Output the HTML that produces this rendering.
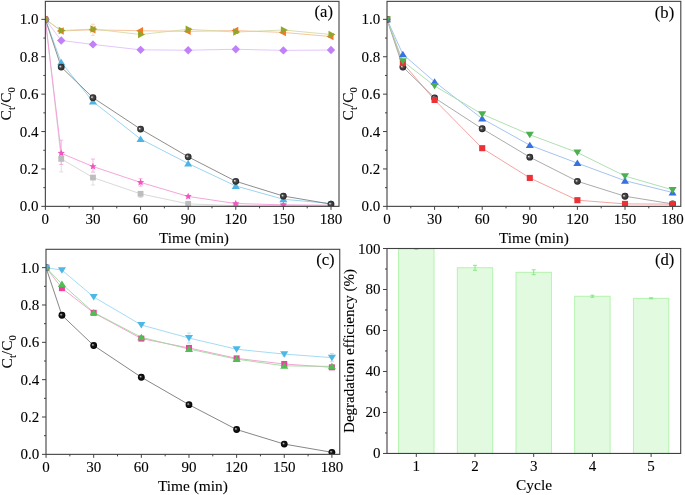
<!DOCTYPE html>
<html><head><meta charset="utf-8"><style>
html,body{margin:0;padding:0;background:#fff;width:685px;height:495px;overflow:hidden}
svg{display:block;will-change:transform} text{stroke:#000;stroke-width:0.1px}
</style></head><body>
<svg width="685" height="495" viewBox="0 0 685 495" font-family='"Liberation Serif", serif' fill="#000">
<defs>
<radialGradient id="sph" cx="0.5" cy="0.5" r="0.5" fx="0.32" fy="0.4">
<stop offset="0" stop-color="#f4f4f4"/><stop offset="0.15" stop-color="#b8b8b8"/><stop offset="0.4" stop-color="#4a4a4a"/><stop offset="0.8" stop-color="#333"/><stop offset="1" stop-color="#1c1c1c"/>
</radialGradient>
<radialGradient id="sphc" cx="0.5" cy="0.5" r="0.5" fx="0.35" fy="0.38">
<stop offset="0" stop-color="#d8d8d8"/><stop offset="0.15" stop-color="#909090"/><stop offset="0.4" stop-color="#1a1a1a"/><stop offset="1" stop-color="#000"/>
</radialGradient>
</defs>
<rect width="685" height="495" fill="#fff"/>
<clipPath id="clipa"><rect x="45.35" y="1.35" width="293.65" height="205.0"/></clipPath>
<g clip-path="url(#clipa)">
<polyline points="45.35,19.35 61.22,158.85 92.96,177.55 140.57,193.82 188.17,203.92 235.78,205.60 283.39,205.79 331.00,205.79" fill="none" stroke="#d5d5d5" stroke-width="0.9"/>
<polyline points="45.35,19.35 61.22,153.24 92.96,166.52 140.57,182.41 188.17,196.44 235.78,203.54 283.39,204.85 331.00,205.23" fill="none" stroke="#f59ad6" stroke-width="0.9"/>
<polyline points="45.35,19.35 61.22,62.36 92.96,101.63 140.57,139.03 188.17,163.53 235.78,185.97 283.39,199.24 331.00,203.54" fill="none" stroke="#8fd0ee" stroke-width="0.9"/>
<polyline points="45.35,19.35 61.22,67.03 92.96,97.70 140.57,129.12 188.17,156.79 235.78,181.29 283.39,196.06 331.00,204.11" fill="none" stroke="#7a7a7a" stroke-width="0.85"/>
<polyline points="45.35,19.35 61.22,40.48 92.96,44.41 140.57,49.83 188.17,50.21 235.78,49.27 283.39,50.39 331.00,50.02" fill="none" stroke="#e0c0fa" stroke-width="0.9"/>
<polyline points="45.35,19.35 61.22,30.94 92.96,29.82 140.57,30.76 188.17,31.32 235.78,30.57 283.39,32.44 331.00,36.55" fill="none" stroke="#f5b685" stroke-width="0.8"/>
<polyline points="45.35,19.35 61.22,30.57 92.96,29.07 140.57,34.50 188.17,29.26 235.78,32.07 283.39,30.01 331.00,34.50" fill="none" stroke="#cfd79a" stroke-width="0.8"/>
<line x1="61.22" y1="158.85" x2="61.22" y2="171.94" stroke="#d8d8d8" stroke-width="0.8"/>
<line x1="59.22" y1="158.85" x2="63.22" y2="158.85" stroke="#d8d8d8" stroke-width="0.8"/>
<line x1="59.22" y1="171.94" x2="63.22" y2="171.94" stroke="#d8d8d8" stroke-width="0.8"/>
<line x1="92.96" y1="177.55" x2="92.96" y2="185.03" stroke="#d8d8d8" stroke-width="0.8"/>
<line x1="90.96" y1="177.55" x2="94.96" y2="177.55" stroke="#d8d8d8" stroke-width="0.8"/>
<line x1="90.96" y1="185.03" x2="94.96" y2="185.03" stroke="#d8d8d8" stroke-width="0.8"/>
<line x1="140.57" y1="193.82" x2="140.57" y2="197.56" stroke="#d8d8d8" stroke-width="0.8"/>
<line x1="138.57" y1="193.82" x2="142.57" y2="193.82" stroke="#d8d8d8" stroke-width="0.8"/>
<line x1="138.57" y1="197.56" x2="142.57" y2="197.56" stroke="#d8d8d8" stroke-width="0.8"/>
<line x1="61.22" y1="140.15" x2="61.22" y2="164.46" stroke="#f5a3da" stroke-width="0.8"/>
<line x1="59.22" y1="140.15" x2="63.22" y2="140.15" stroke="#f5a3da" stroke-width="0.8"/>
<line x1="59.22" y1="164.46" x2="63.22" y2="164.46" stroke="#f5a3da" stroke-width="0.8"/>
<line x1="92.96" y1="159.04" x2="92.96" y2="172.13" stroke="#f5a3da" stroke-width="0.8"/>
<line x1="90.96" y1="159.04" x2="94.96" y2="159.04" stroke="#f5a3da" stroke-width="0.8"/>
<line x1="90.96" y1="172.13" x2="94.96" y2="172.13" stroke="#f5a3da" stroke-width="0.8"/>
<line x1="140.57" y1="178.67" x2="140.57" y2="186.15" stroke="#f5a3da" stroke-width="0.8"/>
<line x1="138.57" y1="178.67" x2="142.57" y2="178.67" stroke="#f5a3da" stroke-width="0.8"/>
<line x1="138.57" y1="186.15" x2="142.57" y2="186.15" stroke="#f5a3da" stroke-width="0.8"/>
<line x1="92.96" y1="24.21" x2="92.96" y2="35.43" stroke="#f8cfb0" stroke-width="0.8"/>
<line x1="90.96" y1="24.21" x2="94.96" y2="24.21" stroke="#f8cfb0" stroke-width="0.8"/>
<line x1="90.96" y1="35.43" x2="94.96" y2="35.43" stroke="#f8cfb0" stroke-width="0.8"/>
<rect x="42.45" y="16.45" width="5.8" height="5.8" fill="#bdbdbd"/>
<rect x="58.32" y="155.95" width="5.8" height="5.8" fill="#bdbdbd"/>
<rect x="90.06" y="174.65" width="5.8" height="5.8" fill="#bdbdbd"/>
<rect x="137.67" y="190.92" width="5.8" height="5.8" fill="#bdbdbd"/>
<rect x="185.27" y="201.02" width="5.8" height="5.8" fill="#bdbdbd"/>
<rect x="232.88" y="202.70" width="5.8" height="5.8" fill="#bdbdbd"/>
<rect x="280.49" y="202.89" width="5.8" height="5.8" fill="#bdbdbd"/>
<rect x="328.10" y="202.89" width="5.8" height="5.8" fill="#bdbdbd"/>
<polygon points="45.35,15.55 46.36,17.97 48.96,18.18 46.98,19.88 47.58,22.42 45.35,21.06 43.12,22.42 43.72,19.88 41.74,18.18 44.34,17.97" fill="#f056be"/>
<polygon points="61.22,149.44 62.22,151.86 64.83,152.07 62.85,153.77 63.45,156.32 61.22,154.95 58.99,156.32 59.59,153.77 57.61,152.07 60.21,151.86" fill="#f056be"/>
<polygon points="92.96,162.72 93.96,165.14 96.57,165.34 94.58,167.05 95.19,169.59 92.96,168.23 90.72,169.59 91.33,167.05 89.34,165.34 91.95,165.14" fill="#f056be"/>
<polygon points="140.57,178.61 141.57,181.03 144.18,181.24 142.19,182.94 142.80,185.49 140.57,184.12 138.33,185.49 138.94,182.94 136.95,181.24 139.56,181.03" fill="#f056be"/>
<polygon points="188.17,192.64 189.18,195.06 191.79,195.26 189.80,196.97 190.41,199.51 188.17,198.15 185.94,199.51 186.55,196.97 184.56,195.26 187.17,195.06" fill="#f056be"/>
<polygon points="235.78,199.74 236.79,202.16 239.40,202.37 237.41,204.07 238.02,206.62 235.78,205.25 233.55,206.62 234.16,204.07 232.17,202.37 234.78,202.16" fill="#f056be"/>
<polygon points="283.39,201.05 284.40,203.47 287.01,203.68 285.02,205.38 285.63,207.93 283.39,206.56 281.16,207.93 281.77,205.38 279.78,203.68 282.39,203.47" fill="#f056be"/>
<polygon points="331.00,201.43 332.01,203.84 334.61,204.05 332.63,205.76 333.23,208.30 331.00,206.94 328.77,208.30 329.37,205.76 327.39,204.05 329.99,203.84" fill="#f056be"/>
<path d="M45.35,15.79 L49.40,22.27 L41.30,22.27Z" fill="#4db5e3"/>
<path d="M61.22,58.80 L65.27,65.28 L57.17,65.28Z" fill="#4db5e3"/>
<path d="M92.96,98.07 L97.01,104.55 L88.91,104.55Z" fill="#4db5e3"/>
<path d="M140.57,135.47 L144.62,141.95 L136.52,141.95Z" fill="#4db5e3"/>
<path d="M188.17,159.96 L192.22,166.44 L184.12,166.44Z" fill="#4db5e3"/>
<path d="M235.78,182.40 L239.83,188.88 L231.73,188.88Z" fill="#4db5e3"/>
<path d="M283.39,195.68 L287.44,202.16 L279.34,202.16Z" fill="#4db5e3"/>
<path d="M331.00,199.98 L335.05,206.46 L326.95,206.46Z" fill="#4db5e3"/>
<circle cx="45.35" cy="19.35" r="3.4" fill="url(#sph)"/>
<circle cx="61.22" cy="67.03" r="3.4" fill="url(#sph)"/>
<circle cx="92.96" cy="97.70" r="3.4" fill="url(#sph)"/>
<circle cx="140.57" cy="129.12" r="3.4" fill="url(#sph)"/>
<circle cx="188.17" cy="156.79" r="3.4" fill="url(#sph)"/>
<circle cx="235.78" cy="181.29" r="3.4" fill="url(#sph)"/>
<circle cx="283.39" cy="196.06" r="3.4" fill="url(#sph)"/>
<circle cx="331.00" cy="204.11" r="3.4" fill="url(#sph)"/>
<path d="M45.35,15.15 L49.55,19.35 L45.35,23.55 L41.15,19.35Z" fill="#c080f8"/>
<path d="M61.22,36.28 L65.42,40.48 L61.22,44.68 L57.02,40.48Z" fill="#c080f8"/>
<path d="M92.96,40.21 L97.16,44.41 L92.96,48.61 L88.76,44.41Z" fill="#c080f8"/>
<path d="M140.57,45.63 L144.77,49.83 L140.57,54.03 L136.37,49.83Z" fill="#c080f8"/>
<path d="M188.17,46.01 L192.37,50.21 L188.17,54.41 L183.97,50.21Z" fill="#c080f8"/>
<path d="M235.78,45.07 L239.98,49.27 L235.78,53.47 L231.58,49.27Z" fill="#c080f8"/>
<path d="M283.39,46.19 L287.59,50.39 L283.39,54.59 L279.19,50.39Z" fill="#c080f8"/>
<path d="M331.00,45.82 L335.20,50.02 L331.00,54.22 L326.80,50.02Z" fill="#c080f8"/>
<path d="M40.87,19.35 L47.87,15.65 L47.87,23.05Z" fill="#f07a28"/>
<path d="M56.74,30.94 L63.74,27.24 L63.74,34.64Z" fill="#f07a28"/>
<path d="M88.48,29.82 L95.48,26.12 L95.48,33.52Z" fill="#f07a28"/>
<path d="M136.09,30.76 L143.09,27.06 L143.09,34.46Z" fill="#f07a28"/>
<path d="M183.69,31.32 L190.69,27.62 L190.69,35.02Z" fill="#f07a28"/>
<path d="M231.30,30.57 L238.30,26.87 L238.30,34.27Z" fill="#f07a28"/>
<path d="M278.91,32.44 L285.91,28.74 L285.91,36.14Z" fill="#f07a28"/>
<path d="M326.52,36.55 L333.52,32.85 L333.52,40.25Z" fill="#f07a28"/>
<path d="M49.83,19.35 L42.83,15.65 L42.83,23.05Z" fill="#93a52a"/>
<path d="M65.70,30.57 L58.70,26.87 L58.70,34.27Z" fill="#93a52a"/>
<path d="M97.44,29.07 L90.44,25.37 L90.44,32.77Z" fill="#93a52a"/>
<path d="M145.05,34.50 L138.05,30.80 L138.05,38.20Z" fill="#93a52a"/>
<path d="M192.65,29.26 L185.65,25.56 L185.65,32.96Z" fill="#93a52a"/>
<path d="M240.26,32.07 L233.26,28.37 L233.26,35.77Z" fill="#93a52a"/>
<path d="M287.87,30.01 L280.87,26.31 L280.87,33.71Z" fill="#93a52a"/>
<path d="M335.48,34.50 L328.48,30.80 L328.48,38.20Z" fill="#93a52a"/>
</g>
<rect x="45.35" y="1.35" width="293.65" height="205.0" fill="none" stroke="#404040" stroke-width="1.1"/>
<line x1="45.35" y1="206.35" x2="45.35" y2="209.85" stroke="#404040" stroke-width="1"/>
<text x="45.35" y="224.35" font-size="15" text-anchor="middle" >0</text>
<line x1="92.95833333333333" y1="206.35" x2="92.95833333333333" y2="209.85" stroke="#404040" stroke-width="1"/>
<text x="92.95833333333333" y="224.35" font-size="15" text-anchor="middle" >30</text>
<line x1="140.56666666666666" y1="206.35" x2="140.56666666666666" y2="209.85" stroke="#404040" stroke-width="1"/>
<text x="140.56666666666666" y="224.35" font-size="15" text-anchor="middle" >60</text>
<line x1="188.17499999999998" y1="206.35" x2="188.17499999999998" y2="209.85" stroke="#404040" stroke-width="1"/>
<text x="188.17499999999998" y="224.35" font-size="15" text-anchor="middle" >90</text>
<line x1="235.7833333333333" y1="206.35" x2="235.7833333333333" y2="209.85" stroke="#404040" stroke-width="1"/>
<text x="235.7833333333333" y="224.35" font-size="15" text-anchor="middle" >120</text>
<line x1="283.39166666666665" y1="206.35" x2="283.39166666666665" y2="209.85" stroke="#404040" stroke-width="1"/>
<text x="283.39166666666665" y="224.35" font-size="15" text-anchor="middle" >150</text>
<line x1="331.0" y1="206.35" x2="331.0" y2="209.85" stroke="#404040" stroke-width="1"/>
<text x="331.0" y="224.35" font-size="15" text-anchor="middle" >180</text>
<line x1="69.15416666666667" y1="206.35" x2="69.15416666666667" y2="208.35" stroke="#404040" stroke-width="1"/>
<line x1="116.76249999999999" y1="206.35" x2="116.76249999999999" y2="208.35" stroke="#404040" stroke-width="1"/>
<line x1="164.3708333333333" y1="206.35" x2="164.3708333333333" y2="208.35" stroke="#404040" stroke-width="1"/>
<line x1="211.97916666666663" y1="206.35" x2="211.97916666666663" y2="208.35" stroke="#404040" stroke-width="1"/>
<line x1="259.5875" y1="206.35" x2="259.5875" y2="208.35" stroke="#404040" stroke-width="1"/>
<line x1="307.1958333333333" y1="206.35" x2="307.1958333333333" y2="208.35" stroke="#404040" stroke-width="1"/>
<line x1="41.35" y1="206.35" x2="45.35" y2="206.35" stroke="#404040" stroke-width="1"/>
<text x="38.550000000000004" y="211.35" font-size="15" text-anchor="end" >0.0</text>
<line x1="41.35" y1="168.95" x2="45.35" y2="168.95" stroke="#404040" stroke-width="1"/>
<text x="38.550000000000004" y="173.95" font-size="15" text-anchor="end" >0.2</text>
<line x1="41.35" y1="131.55" x2="45.35" y2="131.55" stroke="#404040" stroke-width="1"/>
<text x="38.550000000000004" y="136.55" font-size="15" text-anchor="end" >0.4</text>
<line x1="41.35" y1="94.14999999999998" x2="45.35" y2="94.14999999999998" stroke="#404040" stroke-width="1"/>
<text x="38.550000000000004" y="99.14999999999998" font-size="15" text-anchor="end" >0.6</text>
<line x1="41.35" y1="56.75" x2="45.35" y2="56.75" stroke="#404040" stroke-width="1"/>
<text x="38.550000000000004" y="61.75" font-size="15" text-anchor="end" >0.8</text>
<line x1="41.35" y1="19.349999999999994" x2="45.35" y2="19.349999999999994" stroke="#404040" stroke-width="1"/>
<text x="38.550000000000004" y="24.349999999999994" font-size="15" text-anchor="end" >1.0</text>
<line x1="43.35" y1="187.65" x2="45.35" y2="187.65" stroke="#404040" stroke-width="1"/>
<line x1="43.35" y1="150.25" x2="45.35" y2="150.25" stroke="#404040" stroke-width="1"/>
<line x1="43.35" y1="112.85" x2="45.35" y2="112.85" stroke="#404040" stroke-width="1"/>
<line x1="43.35" y1="75.44999999999999" x2="45.35" y2="75.44999999999999" stroke="#404040" stroke-width="1"/>
<line x1="43.35" y1="38.04999999999998" x2="45.35" y2="38.04999999999998" stroke="#404040" stroke-width="1"/>
<text x="193.97500000000002" y="242.75" font-size="15.4" text-anchor="middle" >Time (min)</text>
<text transform="translate(11.350000000000001,103.85) rotate(-90)" font-size="15.5" text-anchor="middle">C<tspan font-size="10.5" dy="4">t</tspan><tspan dy="-4">/C</tspan><tspan font-size="10.5" dy="4">0</tspan></text>
<text x="333.0" y="16.75" font-size="16.6" text-anchor="end" >(a)</text>
<clipPath id="clipb"><rect x="387.0" y="1.35" width="293.79999999999995" height="205.0"/></clipPath>
<g clip-path="url(#clipb)">
<polyline points="387.00,19.35 402.87,63.11 434.60,99.95 482.20,148.19 529.80,177.93 577.40,200.18 625.00,203.92 672.60,204.11" fill="none" stroke="#f29a9a" stroke-width="0.9"/>
<polyline points="387.00,19.35 402.87,67.03 434.60,97.89 482.20,128.75 529.80,157.17 577.40,181.29 625.00,196.25 672.60,203.92" fill="none" stroke="#959595" stroke-width="0.8"/>
<polyline points="387.00,19.35 402.87,54.32 434.60,81.81 482.20,118.65 529.80,145.20 577.40,163.15 625.00,180.73 672.60,192.51" fill="none" stroke="#9bbcf0" stroke-width="0.9"/>
<polyline points="387.00,19.35 402.87,61.24 434.60,85.92 482.20,114.16 529.80,134.73 577.40,152.49 625.00,176.06 672.60,189.89" fill="none" stroke="#a6dca8" stroke-width="0.9"/>
<line x1="625.00" y1="178.49" x2="625.00" y2="182.97" stroke="#b5cdf5" stroke-width="0.8"/>
<line x1="623.00" y1="178.49" x2="627.00" y2="178.49" stroke="#b5cdf5" stroke-width="0.8"/>
<line x1="623.00" y1="182.97" x2="627.00" y2="182.97" stroke="#b5cdf5" stroke-width="0.8"/>
<line x1="672.60" y1="190.27" x2="672.60" y2="194.76" stroke="#b5cdf5" stroke-width="0.8"/>
<line x1="670.60" y1="190.27" x2="674.60" y2="190.27" stroke="#b5cdf5" stroke-width="0.8"/>
<line x1="670.60" y1="194.76" x2="674.60" y2="194.76" stroke="#b5cdf5" stroke-width="0.8"/>
<circle cx="387.00" cy="19.35" r="3.4" fill="url(#sph)"/>
<circle cx="402.87" cy="67.03" r="3.4" fill="url(#sph)"/>
<circle cx="434.60" cy="97.89" r="3.4" fill="url(#sph)"/>
<circle cx="482.20" cy="128.75" r="3.4" fill="url(#sph)"/>
<circle cx="529.80" cy="157.17" r="3.4" fill="url(#sph)"/>
<circle cx="577.40" cy="181.29" r="3.4" fill="url(#sph)"/>
<circle cx="625.00" cy="196.25" r="3.4" fill="url(#sph)"/>
<circle cx="672.60" cy="203.92" r="3.4" fill="url(#sph)"/>
<rect x="383.95" y="16.30" width="6.1" height="6.1" fill="#ec3236"/>
<rect x="399.82" y="60.06" width="6.1" height="6.1" fill="#ec3236"/>
<rect x="431.55" y="96.90" width="6.1" height="6.1" fill="#ec3236"/>
<rect x="479.15" y="145.14" width="6.1" height="6.1" fill="#ec3236"/>
<rect x="526.75" y="174.88" width="6.1" height="6.1" fill="#ec3236"/>
<rect x="574.35" y="197.13" width="6.1" height="6.1" fill="#ec3236"/>
<rect x="621.95" y="200.87" width="6.1" height="6.1" fill="#ec3236"/>
<rect x="669.55" y="201.06" width="6.1" height="6.1" fill="#ec3236"/>
<path d="M387.00,15.79 L391.05,22.27 L382.95,22.27Z" fill="#3672e3"/>
<path d="M402.87,50.76 L406.92,57.24 L398.82,57.24Z" fill="#3672e3"/>
<path d="M434.60,78.24 L438.65,84.72 L430.55,84.72Z" fill="#3672e3"/>
<path d="M482.20,115.08 L486.25,121.56 L478.15,121.56Z" fill="#3672e3"/>
<path d="M529.80,141.64 L533.85,148.12 L525.75,148.12Z" fill="#3672e3"/>
<path d="M577.40,159.59 L581.45,166.07 L573.35,166.07Z" fill="#3672e3"/>
<path d="M625.00,177.17 L629.05,183.65 L620.95,183.65Z" fill="#3672e3"/>
<path d="M672.60,188.95 L676.65,195.43 L668.55,195.43Z" fill="#3672e3"/>
<path d="M387.00,22.91 L391.05,16.43 L382.95,16.43Z" fill="#4caf50"/>
<path d="M402.87,64.80 L406.92,58.32 L398.82,58.32Z" fill="#4caf50"/>
<path d="M434.60,89.49 L438.65,83.01 L430.55,83.01Z" fill="#4caf50"/>
<path d="M482.20,117.72 L486.25,111.24 L478.15,111.24Z" fill="#4caf50"/>
<path d="M529.80,138.29 L533.85,131.81 L525.75,131.81Z" fill="#4caf50"/>
<path d="M577.40,156.06 L581.45,149.58 L573.35,149.58Z" fill="#4caf50"/>
<path d="M625.00,179.62 L629.05,173.14 L620.95,173.14Z" fill="#4caf50"/>
<path d="M672.60,193.46 L676.65,186.98 L668.55,186.98Z" fill="#4caf50"/>
</g>
<rect x="387.0" y="1.35" width="293.79999999999995" height="205.0" fill="none" stroke="#404040" stroke-width="1.1"/>
<line x1="387.0" y1="206.35" x2="387.0" y2="209.85" stroke="#404040" stroke-width="1"/>
<text x="387.0" y="224.35" font-size="15" text-anchor="middle" >0</text>
<line x1="434.6" y1="206.35" x2="434.6" y2="209.85" stroke="#404040" stroke-width="1"/>
<text x="434.6" y="224.35" font-size="15" text-anchor="middle" >30</text>
<line x1="482.20000000000005" y1="206.35" x2="482.20000000000005" y2="209.85" stroke="#404040" stroke-width="1"/>
<text x="482.20000000000005" y="224.35" font-size="15" text-anchor="middle" >60</text>
<line x1="529.8" y1="206.35" x2="529.8" y2="209.85" stroke="#404040" stroke-width="1"/>
<text x="529.8" y="224.35" font-size="15" text-anchor="middle" >90</text>
<line x1="577.4000000000001" y1="206.35" x2="577.4000000000001" y2="209.85" stroke="#404040" stroke-width="1"/>
<text x="577.4000000000001" y="224.35" font-size="15" text-anchor="middle" >120</text>
<line x1="625.0" y1="206.35" x2="625.0" y2="209.85" stroke="#404040" stroke-width="1"/>
<text x="625.0" y="224.35" font-size="15" text-anchor="middle" >150</text>
<line x1="672.6" y1="206.35" x2="672.6" y2="209.85" stroke="#404040" stroke-width="1"/>
<text x="672.6" y="224.35" font-size="15" text-anchor="middle" >180</text>
<line x1="410.8" y1="206.35" x2="410.8" y2="208.35" stroke="#404040" stroke-width="1"/>
<line x1="458.4" y1="206.35" x2="458.4" y2="208.35" stroke="#404040" stroke-width="1"/>
<line x1="506.0" y1="206.35" x2="506.0" y2="208.35" stroke="#404040" stroke-width="1"/>
<line x1="553.6" y1="206.35" x2="553.6" y2="208.35" stroke="#404040" stroke-width="1"/>
<line x1="601.2" y1="206.35" x2="601.2" y2="208.35" stroke="#404040" stroke-width="1"/>
<line x1="648.8" y1="206.35" x2="648.8" y2="208.35" stroke="#404040" stroke-width="1"/>
<line x1="383.0" y1="206.35" x2="387.0" y2="206.35" stroke="#404040" stroke-width="1"/>
<text x="380.2" y="211.35" font-size="15" text-anchor="end" >0.0</text>
<line x1="383.0" y1="168.95" x2="387.0" y2="168.95" stroke="#404040" stroke-width="1"/>
<text x="380.2" y="173.95" font-size="15" text-anchor="end" >0.2</text>
<line x1="383.0" y1="131.55" x2="387.0" y2="131.55" stroke="#404040" stroke-width="1"/>
<text x="380.2" y="136.55" font-size="15" text-anchor="end" >0.4</text>
<line x1="383.0" y1="94.14999999999998" x2="387.0" y2="94.14999999999998" stroke="#404040" stroke-width="1"/>
<text x="380.2" y="99.14999999999998" font-size="15" text-anchor="end" >0.6</text>
<line x1="383.0" y1="56.75" x2="387.0" y2="56.75" stroke="#404040" stroke-width="1"/>
<text x="380.2" y="61.75" font-size="15" text-anchor="end" >0.8</text>
<line x1="383.0" y1="19.349999999999994" x2="387.0" y2="19.349999999999994" stroke="#404040" stroke-width="1"/>
<text x="380.2" y="24.349999999999994" font-size="15" text-anchor="end" >1.0</text>
<line x1="385.0" y1="187.65" x2="387.0" y2="187.65" stroke="#404040" stroke-width="1"/>
<line x1="385.0" y1="150.25" x2="387.0" y2="150.25" stroke="#404040" stroke-width="1"/>
<line x1="385.0" y1="112.85" x2="387.0" y2="112.85" stroke="#404040" stroke-width="1"/>
<line x1="385.0" y1="75.44999999999999" x2="387.0" y2="75.44999999999999" stroke="#404040" stroke-width="1"/>
<line x1="385.0" y1="38.04999999999998" x2="387.0" y2="38.04999999999998" stroke="#404040" stroke-width="1"/>
<text x="533.9" y="242.75" font-size="15.4" text-anchor="middle" >Time (min)</text>
<text transform="translate(353.0,103.85) rotate(-90)" font-size="15.5" text-anchor="middle">C<tspan font-size="10.5" dy="4">t</tspan><tspan dy="-4">/C</tspan><tspan font-size="10.5" dy="4">0</tspan></text>
<text x="674.1999999999999" y="17.75" font-size="16.6" text-anchor="end" >(b)</text>
<clipPath id="clipc"><rect x="46.0" y="249.3" width="293.75" height="205.05"/></clipPath>
<g clip-path="url(#clipc)">
<polyline points="46.05,267.65 61.93,315.26 93.69,345.50 141.33,377.24 188.98,404.69 236.62,429.52 284.26,444.08 331.90,452.30" fill="none" stroke="#707070" stroke-width="0.85"/>
<polyline points="46.05,267.65 61.93,288.19 93.69,312.83 141.33,338.60 188.98,347.93 236.62,358.39 284.26,363.99 331.90,367.35" fill="none" stroke="#f59acb" stroke-width="0.9"/>
<polyline points="46.05,267.65 61.93,284.08 93.69,312.46 141.33,337.29 188.98,349.05 236.62,359.13 284.26,365.85 331.90,366.41" fill="none" stroke="#9fd89f" stroke-width="0.9"/>
<polyline points="46.05,267.65 61.93,270.08 93.69,296.96 141.33,324.97 188.98,338.04 236.62,349.24 284.26,354.09 331.90,357.64" fill="none" stroke="#9ad8f2" stroke-width="0.9"/>
<line x1="188.98" y1="333.00" x2="188.98" y2="343.08" stroke="#b0def3" stroke-width="0.8"/>
<line x1="186.98" y1="333.00" x2="190.98" y2="333.00" stroke="#b0def3" stroke-width="0.8"/>
<line x1="186.98" y1="343.08" x2="190.98" y2="343.08" stroke="#b0def3" stroke-width="0.8"/>
<line x1="331.90" y1="353.53" x2="331.90" y2="361.75" stroke="#b0def3" stroke-width="0.8"/>
<line x1="329.90" y1="353.53" x2="333.90" y2="353.53" stroke="#b0def3" stroke-width="0.8"/>
<line x1="329.90" y1="361.75" x2="333.90" y2="361.75" stroke="#b0def3" stroke-width="0.8"/>
<line x1="284.26" y1="352.23" x2="284.26" y2="355.96" stroke="#b0def3" stroke-width="0.8"/>
<line x1="282.26" y1="352.23" x2="286.26" y2="352.23" stroke="#b0def3" stroke-width="0.8"/>
<line x1="282.26" y1="355.96" x2="286.26" y2="355.96" stroke="#b0def3" stroke-width="0.8"/>
<circle cx="46.05" cy="267.65" r="3.4" fill="url(#sphc)"/>
<circle cx="61.93" cy="315.26" r="3.4" fill="url(#sphc)"/>
<circle cx="93.69" cy="345.50" r="3.4" fill="url(#sphc)"/>
<circle cx="141.33" cy="377.24" r="3.4" fill="url(#sphc)"/>
<circle cx="188.98" cy="404.69" r="3.4" fill="url(#sphc)"/>
<circle cx="236.62" cy="429.52" r="3.4" fill="url(#sphc)"/>
<circle cx="284.26" cy="444.08" r="3.4" fill="url(#sphc)"/>
<circle cx="331.90" cy="452.30" r="3.4" fill="url(#sphc)"/>
<rect x="43.05" y="264.65" width="6.0" height="6.0" fill="#ef3fa0"/>
<rect x="58.93" y="285.19" width="6.0" height="6.0" fill="#ef3fa0"/>
<rect x="90.69" y="309.83" width="6.0" height="6.0" fill="#ef3fa0"/>
<rect x="138.33" y="335.60" width="6.0" height="6.0" fill="#ef3fa0"/>
<rect x="185.98" y="344.93" width="6.0" height="6.0" fill="#ef3fa0"/>
<rect x="233.62" y="355.39" width="6.0" height="6.0" fill="#ef3fa0"/>
<rect x="281.26" y="360.99" width="6.0" height="6.0" fill="#ef3fa0"/>
<rect x="328.90" y="364.35" width="6.0" height="6.0" fill="#ef3fa0"/>
<path d="M46.05,264.09 L50.10,270.57 L42.00,270.57Z" fill="#52bd55"/>
<path d="M61.93,280.52 L65.98,287.00 L57.88,287.00Z" fill="#52bd55"/>
<path d="M93.69,308.89 L97.74,315.37 L89.64,315.37Z" fill="#52bd55"/>
<path d="M141.33,333.73 L145.38,340.21 L137.28,340.21Z" fill="#52bd55"/>
<path d="M188.98,345.49 L193.03,351.97 L184.93,351.97Z" fill="#52bd55"/>
<path d="M236.62,355.57 L240.67,362.05 L232.57,362.05Z" fill="#52bd55"/>
<path d="M284.26,362.29 L288.31,368.77 L280.21,368.77Z" fill="#52bd55"/>
<path d="M331.90,362.85 L335.95,369.33 L327.85,369.33Z" fill="#52bd55"/>
<path d="M46.05,271.21 L50.10,264.73 L42.00,264.73Z" fill="#4db8e6"/>
<path d="M61.93,273.64 L65.98,267.16 L57.88,267.16Z" fill="#4db8e6"/>
<path d="M93.69,300.53 L97.74,294.05 L89.64,294.05Z" fill="#4db8e6"/>
<path d="M141.33,328.53 L145.38,322.05 L137.28,322.05Z" fill="#4db8e6"/>
<path d="M188.98,341.60 L193.03,335.12 L184.93,335.12Z" fill="#4db8e6"/>
<path d="M236.62,352.80 L240.67,346.32 L232.57,346.32Z" fill="#4db8e6"/>
<path d="M284.26,357.66 L288.31,351.18 L280.21,351.18Z" fill="#4db8e6"/>
<path d="M331.90,361.20 L335.95,354.72 L327.85,354.72Z" fill="#4db8e6"/>
</g>
<rect x="46.0" y="249.3" width="293.75" height="205.05" fill="none" stroke="#404040" stroke-width="1.1"/>
<line x1="46.05" y1="454.35" x2="46.05" y2="457.85" stroke="#404040" stroke-width="1"/>
<text x="46.05" y="472.35" font-size="15" text-anchor="middle" >0</text>
<line x1="93.69166666666666" y1="454.35" x2="93.69166666666666" y2="457.85" stroke="#404040" stroke-width="1"/>
<text x="93.69166666666666" y="472.35" font-size="15" text-anchor="middle" >30</text>
<line x1="141.33333333333334" y1="454.35" x2="141.33333333333334" y2="457.85" stroke="#404040" stroke-width="1"/>
<text x="141.33333333333334" y="472.35" font-size="15" text-anchor="middle" >60</text>
<line x1="188.97500000000002" y1="454.35" x2="188.97500000000002" y2="457.85" stroke="#404040" stroke-width="1"/>
<text x="188.97500000000002" y="472.35" font-size="15" text-anchor="middle" >90</text>
<line x1="236.61666666666667" y1="454.35" x2="236.61666666666667" y2="457.85" stroke="#404040" stroke-width="1"/>
<text x="236.61666666666667" y="472.35" font-size="15" text-anchor="middle" >120</text>
<line x1="284.2583333333334" y1="454.35" x2="284.2583333333334" y2="457.85" stroke="#404040" stroke-width="1"/>
<text x="284.2583333333334" y="472.35" font-size="15" text-anchor="middle" >150</text>
<line x1="331.90000000000003" y1="454.35" x2="331.90000000000003" y2="457.85" stroke="#404040" stroke-width="1"/>
<text x="331.90000000000003" y="472.35" font-size="15" text-anchor="middle" >180</text>
<line x1="69.87083333333334" y1="454.35" x2="69.87083333333334" y2="456.35" stroke="#404040" stroke-width="1"/>
<line x1="117.5125" y1="454.35" x2="117.5125" y2="456.35" stroke="#404040" stroke-width="1"/>
<line x1="165.1541666666667" y1="454.35" x2="165.1541666666667" y2="456.35" stroke="#404040" stroke-width="1"/>
<line x1="212.79583333333335" y1="454.35" x2="212.79583333333335" y2="456.35" stroke="#404040" stroke-width="1"/>
<line x1="260.4375" y1="454.35" x2="260.4375" y2="456.35" stroke="#404040" stroke-width="1"/>
<line x1="308.0791666666667" y1="454.35" x2="308.0791666666667" y2="456.35" stroke="#404040" stroke-width="1"/>
<line x1="42.0" y1="454.35" x2="46.0" y2="454.35" stroke="#404040" stroke-width="1"/>
<text x="39.2" y="459.35" font-size="15" text-anchor="end" >0.0</text>
<line x1="42.0" y1="417.01000000000005" x2="46.0" y2="417.01000000000005" stroke="#404040" stroke-width="1"/>
<text x="39.2" y="422.01000000000005" font-size="15" text-anchor="end" >0.2</text>
<line x1="42.0" y1="379.67" x2="46.0" y2="379.67" stroke="#404040" stroke-width="1"/>
<text x="39.2" y="384.67" font-size="15" text-anchor="end" >0.4</text>
<line x1="42.0" y1="342.33000000000004" x2="46.0" y2="342.33000000000004" stroke="#404040" stroke-width="1"/>
<text x="39.2" y="347.33000000000004" font-size="15" text-anchor="end" >0.6</text>
<line x1="42.0" y1="304.99" x2="46.0" y2="304.99" stroke="#404040" stroke-width="1"/>
<text x="39.2" y="309.99" font-size="15" text-anchor="end" >0.8</text>
<line x1="42.0" y1="267.65000000000003" x2="46.0" y2="267.65000000000003" stroke="#404040" stroke-width="1"/>
<text x="39.2" y="272.65000000000003" font-size="15" text-anchor="end" >1.0</text>
<line x1="44.0" y1="435.68" x2="46.0" y2="435.68" stroke="#404040" stroke-width="1"/>
<line x1="44.0" y1="398.34000000000003" x2="46.0" y2="398.34000000000003" stroke="#404040" stroke-width="1"/>
<line x1="44.0" y1="361.0" x2="46.0" y2="361.0" stroke="#404040" stroke-width="1"/>
<line x1="44.0" y1="323.66" x2="46.0" y2="323.66" stroke="#404040" stroke-width="1"/>
<line x1="44.0" y1="286.32000000000005" x2="46.0" y2="286.32000000000005" stroke="#404040" stroke-width="1"/>
<text x="192.875" y="490.75" font-size="15.4" text-anchor="middle" >Time (min)</text>
<text transform="translate(12.0,351.82500000000005) rotate(-90)" font-size="15.5" text-anchor="middle">C<tspan font-size="10.5" dy="4">t</tspan><tspan dy="-4">/C</tspan><tspan font-size="10.5" dy="4">0</tspan></text>
<text x="334.65" y="264.5" font-size="16.6" text-anchor="end" >(c)</text>
<clipPath id="clipd"><rect x="387.0" y="248.5" width="293.70000000000005" height="204.95"/></clipPath><g clip-path="url(#clipd)">
<rect x="398.60" y="248.70" width="35.4" height="204.75" fill="#e2fbe0" stroke="#adf2a6" stroke-width="0.9"/>
<line x1="416.30" y1="247.89" x2="416.30" y2="249.52" stroke="#7ae67a" stroke-width="0.9"/>
<line x1="414.30" y1="247.89" x2="418.30" y2="247.89" stroke="#7ae67a" stroke-width="0.9"/>
<line x1="414.30" y1="249.52" x2="418.30" y2="249.52" stroke="#7ae67a" stroke-width="0.9"/>
<rect x="457.30" y="267.77" width="35.4" height="185.68" fill="#e2fbe0" stroke="#adf2a6" stroke-width="0.9"/>
<line x1="475.00" y1="265.31" x2="475.00" y2="270.22" stroke="#7ae67a" stroke-width="0.9"/>
<line x1="473.00" y1="265.31" x2="477.00" y2="265.31" stroke="#7ae67a" stroke-width="0.9"/>
<line x1="473.00" y1="270.22" x2="477.00" y2="270.22" stroke="#7ae67a" stroke-width="0.9"/>
<rect x="516.00" y="272.27" width="35.4" height="181.18" fill="#e2fbe0" stroke="#adf2a6" stroke-width="0.9"/>
<line x1="533.70" y1="269.81" x2="533.70" y2="274.73" stroke="#7ae67a" stroke-width="0.9"/>
<line x1="531.70" y1="269.81" x2="535.70" y2="269.81" stroke="#7ae67a" stroke-width="0.9"/>
<line x1="531.70" y1="274.73" x2="535.70" y2="274.73" stroke="#7ae67a" stroke-width="0.9"/>
<rect x="574.70" y="296.25" width="35.4" height="157.20" fill="#e2fbe0" stroke="#adf2a6" stroke-width="0.9"/>
<line x1="592.40" y1="295.23" x2="592.40" y2="297.28" stroke="#7ae67a" stroke-width="0.9"/>
<line x1="590.40" y1="295.23" x2="594.40" y2="295.23" stroke="#7ae67a" stroke-width="0.9"/>
<line x1="590.40" y1="297.28" x2="594.40" y2="297.28" stroke="#7ae67a" stroke-width="0.9"/>
<rect x="633.40" y="298.30" width="35.4" height="155.15" fill="#e2fbe0" stroke="#adf2a6" stroke-width="0.9"/>
<line x1="651.10" y1="297.79" x2="651.10" y2="298.82" stroke="#7ae67a" stroke-width="0.9"/>
<line x1="649.10" y1="297.79" x2="653.10" y2="297.79" stroke="#7ae67a" stroke-width="0.9"/>
<line x1="649.10" y1="298.82" x2="653.10" y2="298.82" stroke="#7ae67a" stroke-width="0.9"/>
</g>
<rect x="387.0" y="248.5" width="293.70000000000005" height="204.95" fill="none" stroke="#404040" stroke-width="1.1"/>
<line x1="416.3" y1="453.45" x2="416.3" y2="456.95" stroke="#404040" stroke-width="1"/>
<text x="416.3" y="471.45" font-size="15" text-anchor="middle" >1</text>
<line x1="475.0" y1="453.45" x2="475.0" y2="456.95" stroke="#404040" stroke-width="1"/>
<text x="475.0" y="471.45" font-size="15" text-anchor="middle" >2</text>
<line x1="533.7" y1="453.45" x2="533.7" y2="456.95" stroke="#404040" stroke-width="1"/>
<text x="533.7" y="471.45" font-size="15" text-anchor="middle" >3</text>
<line x1="592.4000000000001" y1="453.45" x2="592.4000000000001" y2="456.95" stroke="#404040" stroke-width="1"/>
<text x="592.4000000000001" y="471.45" font-size="15" text-anchor="middle" >4</text>
<line x1="651.1" y1="453.45" x2="651.1" y2="456.95" stroke="#404040" stroke-width="1"/>
<text x="651.1" y="471.45" font-size="15" text-anchor="middle" >5</text>
<line x1="383.0" y1="453.45" x2="387.0" y2="453.45" stroke="#404040" stroke-width="1"/>
<text x="380.4" y="458.45" font-size="15" text-anchor="end" >0</text>
<line x1="383.0" y1="412.46" x2="387.0" y2="412.46" stroke="#404040" stroke-width="1"/>
<text x="380.4" y="417.46" font-size="15" text-anchor="end" >20</text>
<line x1="383.0" y1="371.46999999999997" x2="387.0" y2="371.46999999999997" stroke="#404040" stroke-width="1"/>
<text x="380.4" y="376.46999999999997" font-size="15" text-anchor="end" >40</text>
<line x1="383.0" y1="330.48" x2="387.0" y2="330.48" stroke="#404040" stroke-width="1"/>
<text x="380.4" y="335.48" font-size="15" text-anchor="end" >60</text>
<line x1="383.0" y1="289.49" x2="387.0" y2="289.49" stroke="#404040" stroke-width="1"/>
<text x="380.4" y="294.49" font-size="15" text-anchor="end" >80</text>
<line x1="383.0" y1="248.5" x2="387.0" y2="248.5" stroke="#404040" stroke-width="1"/>
<text x="380.4" y="253.5" font-size="15" text-anchor="end" >100</text>
<line x1="385.0" y1="432.955" x2="387.0" y2="432.955" stroke="#404040" stroke-width="1"/>
<line x1="385.0" y1="391.965" x2="387.0" y2="391.965" stroke="#404040" stroke-width="1"/>
<line x1="385.0" y1="350.975" x2="387.0" y2="350.975" stroke="#404040" stroke-width="1"/>
<line x1="385.0" y1="309.985" x2="387.0" y2="309.985" stroke="#404040" stroke-width="1"/>
<line x1="385.0" y1="268.995" x2="387.0" y2="268.995" stroke="#404040" stroke-width="1"/>
<text x="534.0500000000001" y="489.65" font-size="15.4" text-anchor="middle" >Cycle</text>
<text transform="translate(353.5,350.975) rotate(-90)" font-size="15" text-anchor="middle">Degradation efficiency (%)</text>
<text x="674.4000000000001" y="264.6" font-size="16.6" text-anchor="end" >(d)</text>
</svg>
</body></html>
